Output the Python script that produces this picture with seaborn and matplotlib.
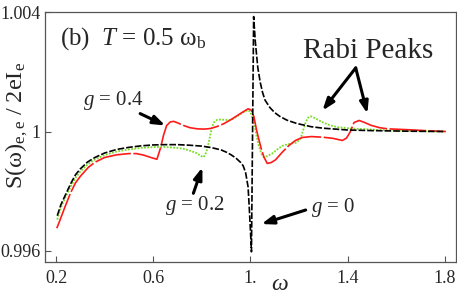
import pandas as pd
import seaborn as sns
import matplotlib.pyplot as plt

# g = 0
black_w = [0.205, 0.22, 0.24, 0.26, 0.28, 0.30, 0.33, 0.36, 0.40, 0.45, 0.50, 0.55, 0.60,
           0.65, 0.70, 0.75, 0.80, 0.84, 0.88, 0.90, 0.92, 0.94, 0.96, 0.97, 0.98, 0.99,
           0.995, 1.0, 1.004, 1.013, 1.02, 1.03, 1.04, 1.05, 1.06, 1.08, 1.10, 1.12, 1.15,
           1.19, 1.25, 1.30, 1.40, 1.50, 1.65, 1.80]
black_s = [0.99718, 0.99755, 0.99790, 0.99825, 0.99855, 0.99875, 0.99898, 0.99913, 0.99928,
           0.99940, 0.99947, 0.99952, 0.99955, 0.99956, 0.99956, 0.99954, 0.99951, 0.99946,
           0.99938, 0.99931, 0.99922, 0.99911, 0.99896, 0.99885, 0.99862, 0.99815, 0.99745,
           0.99665, 0.99597, 1.00385, 1.00300, 1.00215, 1.00165, 1.00130, 1.00105, 1.00080,
           1.00063, 1.00051, 1.00038, 1.00027, 1.00016, 1.00011, 1.00005, 1.00003, 1.00001,
           1.00000]

# g = 0.4
red_w = [0.203, 0.21, 0.237, 0.26, 0.28, 0.30, 0.333, 0.36, 0.40, 0.45, 0.50, 0.53, 0.56,
         0.59, 0.615, 0.63, 0.642, 0.655, 0.67, 0.684, 0.70, 0.725, 0.75, 0.78, 0.81, 0.835,
         0.86, 0.89, 0.92, 0.945, 0.97, 0.99, 1.003, 1.014, 1.025, 1.034, 1.045, 1.055,
         1.069, 1.085, 1.103, 1.13, 1.158, 1.185, 1.213, 1.25, 1.296, 1.34, 1.378, 1.395,
         1.41, 1.426, 1.447, 1.47, 1.495, 1.53, 1.564, 1.62, 1.673, 1.74, 1.804]
red_s = [0.99676, 0.99690, 0.99748, 0.99795, 0.99828, 0.99850, 0.99880, 0.99897, 0.99913,
         0.99922, 0.99926, 0.99926, 0.99921, 0.99913, 0.99907, 0.99945, 0.99987, 1.00020,
         1.00032, 1.00034, 1.00029, 1.00020, 1.00013, 1.00009, 1.00008, 1.00010, 1.00016,
         1.00026, 1.00040, 1.00053, 1.00066, 1.00076, 1.00072, 1.00050, 1.00005, 0.99975,
         0.99940, 0.99915, 0.99893, 0.99896, 0.99905, 0.99930, 0.99953, 0.99970, 0.99980,
         0.99983, 0.99981, 0.99977, 0.99970, 0.99978, 0.99998, 1.00030, 1.00037, 1.00030,
         1.00021, 1.00013, 1.00009, 1.00007, 1.00005, 1.00002, 1.00000]

# g = 0.2
green_w = [0.205, 0.22, 0.24, 0.26, 0.28, 0.30, 0.33, 0.36, 0.40, 0.45, 0.50, 0.55, 0.60,
           0.65, 0.70, 0.725, 0.75, 0.78, 0.795, 0.807, 0.818, 0.828, 0.84, 0.849, 0.862,
           0.876, 0.895, 0.918, 0.94, 0.959, 0.975, 0.99, 1.0, 1.014, 1.025, 1.034, 1.045,
           1.055, 1.07, 1.089, 1.11, 1.131, 1.152, 1.172, 1.19, 1.206, 1.217, 1.227, 1.237,
           1.247, 1.265, 1.296, 1.33, 1.364, 1.40, 1.433, 1.466, 1.53, 1.605, 1.70, 1.80]
green_s = [0.99705, 0.99745, 0.99782, 0.99815, 0.99845, 0.99866, 0.99890, 0.99906, 0.99921,
           0.99933, 0.99940, 0.99945, 0.99948, 0.99948, 0.99945, 0.99942, 0.99936, 0.99927,
           0.99918, 0.99914, 0.99930, 0.99962, 1.00010, 1.00030, 1.00039, 1.00040, 1.00039,
           1.00038, 1.00048, 1.00059, 1.00067, 1.00072, 1.00065, 1.00031, 0.99985, 0.99953,
           0.99925, 0.99914, 0.99918, 0.99926, 0.99940, 0.99952, 0.99957, 0.99960, 0.99963,
           0.99976, 1.00005, 1.00031, 1.00046, 1.00051, 1.00045, 1.00031, 1.00020, 1.00014,
           1.00011, 1.00009, 1.00008, 1.00005, 1.00003, 1.00001, 1.00000]

x_ticks = [0.2, 0.6, 1.0, 1.4, 1.8]
x_ticklabels = ['0.2', '0.6', '1.', '1.4', '1.8']
y_ticks = [0.996, 1.0, 1.004]
y_ticklabels = ['0.996', '1', '1.004']

sns.set_style('ticks')
plt.rcParams['font.family'] = ['Liberation Serif', 'DejaVu Serif']
plt.rcParams['mathtext.fontset'] = 'custom'
plt.rcParams['mathtext.rm'] = 'Liberation Serif'
plt.rcParams['mathtext.it'] = 'Liberation Serif:italic'

fig = plt.figure(figsize=(4.57, 2.95), dpi=100)
ax = fig.add_axes([0.0985, 0.112, 0.899, 0.847])

green = pd.DataFrame({'w': green_w, 's': green_s})
red = pd.DataFrame({'w': red_w, 's': red_s})
black = pd.DataFrame({'w': black_w, 's': black_s})

sns.lineplot(data=green, x='w', y='s', color='#77dd22', lw=1.3, linestyle=(0, (1, 0.8)),
             estimator=None, sort=False, ax=ax)
sns.lineplot(data=red, x='w', y='s', color='#ff1a1a', lw=1.2, linestyle=(0, (22, 1.5)),
             estimator=None, sort=False, ax=ax)
sns.lineplot(data=black, x='w', y='s', color='black', lw=1.2, linestyle=(0, (4, 1.2)),
             estimator=None, sort=False, ax=ax)

ax.set_xlim(0.1546, 1.845)
ax.set_ylim(0.99563, 1.004)
ax.set_xticks(x_ticks)
ax.set_xticklabels(x_ticklabels)
ax.set_yticks(y_ticks)
ax.set_yticklabels(y_ticklabels)
ax.tick_params(axis='both', direction='in', length=4, width=0.8, color='#555555',
               labelsize=13)
ax.tick_params(axis='x', pad=6)
ax.tick_params(axis='y', pad=3)
for sp in ax.spines.values():
    sp.set_visible(True)
    sp.set_color('#555555')
    sp.set_linewidth(0.9)

ax.set_ylabel('S(ω)$_{\\rm e,e}$ / 2eI$_{\\rm e}$', fontsize=17.5)
ax.yaxis.set_label_coords(-0.036, 0.548)
ax.set_xlabel('$\\omega$', fontsize=17)
ax.xaxis.set_label_coords(0.572, -0.05)

ax.text(0.2165, 1.0029, '(b)  $T$ = 0.5 ω$_{\\rm b}$', fontsize=18, va='baseline', ha='left')
ax.text(1.4825, 1.00247, 'Rabi Peaks', fontsize=21, va='baseline', ha='center')
ax.text(0.311, 1.00103, '$g$ = 0.4', fontsize=15, va='center', ha='left')
ax.text(0.6495, 0.99753, '$g$ = 0.2', fontsize=15, va='center', ha='left')
ax.text(1.247, 0.99747, '$g$ = 0', fontsize=15, va='center', ha='left')

arrow = dict(arrowstyle='-|>,head_length=0.7,head_width=0.25', lw=2.2, color='black',
             shrinkA=0, shrinkB=0)
ax.annotate('', xy=(0.6495, 1.0002), xytext=(0.546, 1.0006), arrowprops=arrow)
ax.annotate('', xy=(0.802, 0.9988), xytext=(0.765, 0.99793), arrowprops=arrow)
ax.annotate('', xy=(1.045, 0.9969), xytext=(1.227, 0.99737), arrowprops=arrow)
ax.annotate('', xy=(1.296, 1.0007), xytext=(1.433, 1.00213), arrowprops=arrow)
ax.annotate('', xy=(1.481, 1.0006), xytext=(1.433, 1.00213), arrowprops=arrow)

fig.savefig('out.png', dpi=100)
